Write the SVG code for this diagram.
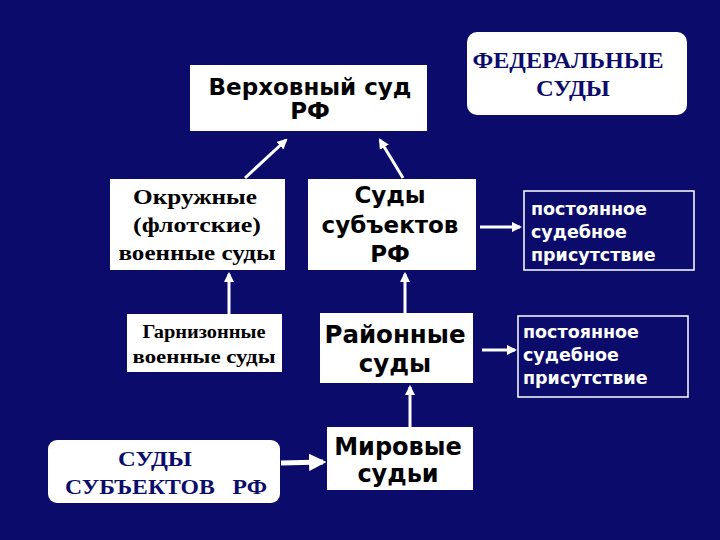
<svg xmlns="http://www.w3.org/2000/svg" width="720" height="540" viewBox="0 0 720 540">
<style>
.box{fill:#ffffff;stroke:none}
.obox{fill:none;stroke:#ffffff;stroke-width:1.5}
.sans{font-family:"DejaVu Sans","Liberation Sans",sans-serif;font-weight:bold;fill:#000000;text-anchor:middle}
.serif{font-family:"Liberation Serif","DejaVu Serif",serif;font-weight:bold;fill:#000000;text-anchor:middle}
.navy{font-family:"Liberation Serif","DejaVu Serif",serif;font-weight:bold;fill:#0b0b6b;text-anchor:middle;white-space:pre}
.wt{font-family:"DejaVu Sans","Liberation Sans",sans-serif;font-weight:bold;fill:#ffffff;font-size:17.5px}
.conn{stroke:#ffffff;stroke-width:3;fill:none;marker-end:url(#ah)}
</style>
<defs>
<marker id="ah" viewBox="0 0 10 10" refX="8" refY="5" markerWidth="3.5" markerHeight="3.5" orient="auto">
<path d="M0,0 L10,5 L0,10 z" fill="#ffffff"/>
</marker>
</defs>
<rect width="720" height="540" fill="#0b0b6b"/>
<g id="connectors">
<line class="conn" x1="245" y1="178" x2="286" y2="140"/>
<line class="conn" x1="403" y1="178" x2="380" y2="140"/>
<line class="conn" x1="229" y1="314" x2="229" y2="274"/>
<line class="conn" x1="405" y1="313" x2="405" y2="274"/>
<line class="conn" x1="410" y1="427" x2="410" y2="387"/>
<line class="conn" x1="480" y1="227" x2="520" y2="227"/>
<line class="conn" x1="482" y1="350" x2="515" y2="350"/>
<line class="conn" x1="281" y1="463" x2="323" y2="462" style="stroke-width:5"/>
</g>
<g id="verkhovny">
<rect class="box" x="190" y="65" width="237" height="66"/>
<text class="sans" x="310" y="95" font-size="23">Верховный суд</text>
<text class="sans" x="310" y="119" font-size="23">РФ</text>
</g>
<g id="federalnye">
<rect class="box" x="467" y="32" width="220" height="83" rx="10"/>
<text class="navy" x="568" y="68" font-size="23" textLength="191" lengthAdjust="spacingAndGlyphs">ФЕДЕРАЛЬНЫЕ</text>
<text class="navy" x="573" y="96" font-size="23" textLength="74" lengthAdjust="spacingAndGlyphs">СУДЫ</text>
</g>
<g id="okruzhnye">
<rect class="box" x="110" y="179" width="175" height="91"/>
<text class="serif" x="195" y="204" font-size="21" textLength="124" lengthAdjust="spacingAndGlyphs">Окружные</text>
<text class="serif" x="197" y="232" font-size="21" textLength="128" lengthAdjust="spacingAndGlyphs">(флотские)</text>
<text class="serif" x="197" y="260" font-size="21" textLength="157" lengthAdjust="spacingAndGlyphs">военные суды</text>
</g>
<g id="sudy-subektov">
<rect class="box" x="308" y="179" width="168" height="91"/>
<text class="sans" x="390" y="203" font-size="23">Суды</text>
<text class="sans" x="390" y="233" font-size="23">субъектов</text>
<text class="sans" x="390" y="262" font-size="23">РФ</text>
</g>
<g id="postoyannoe1">
<rect class="obox" x="524" y="191" width="170" height="79"/>
<text class="wt" x="531" y="215">постоянное</text>
<text class="wt" x="531" y="238">судебное</text>
<text class="wt" x="531" y="261">присутствие</text>
</g>
<g id="garnizonnye">
<rect class="box" x="127" y="314" width="155" height="58"/>
<text class="serif" x="204" y="338" font-size="18" textLength="123" lengthAdjust="spacingAndGlyphs">Гарнизонные</text>
<text class="serif" x="204" y="363" font-size="18" textLength="143" lengthAdjust="spacingAndGlyphs">военные суды</text>
</g>
<g id="rayonnye">
<rect class="box" x="320" y="313" width="153" height="70"/>
<text class="sans" x="395" y="343" font-size="24.5">Районные</text>
<text class="sans" x="395" y="372" font-size="24.5">суды</text>
</g>
<g id="postoyannoe2">
<rect class="obox" x="518" y="316" width="170" height="81"/>
<text class="wt" x="523" y="338">постоянное</text>
<text class="wt" x="523" y="361">судебное</text>
<text class="wt" x="523" y="384">присутствие</text>
</g>
<g id="mirovye">
<rect class="box" x="327" y="427" width="146" height="63"/>
<text class="sans" x="398" y="455" font-size="24">Мировые</text>
<text class="sans" x="398" y="482" font-size="24">судьи</text>
</g>
<g id="sudy-subektov-rf">
<rect class="box" x="48" y="440" width="232" height="63" rx="9"/>
<text class="navy" x="155" y="466" font-size="22" textLength="74" lengthAdjust="spacingAndGlyphs">СУДЫ</text>
<text class="navy" x="166" y="494" font-size="22" textLength="202" lengthAdjust="spacingAndGlyphs" xml:space="preserve">СУБЪЕКТОВ   РФ</text>
</g>
</svg>
